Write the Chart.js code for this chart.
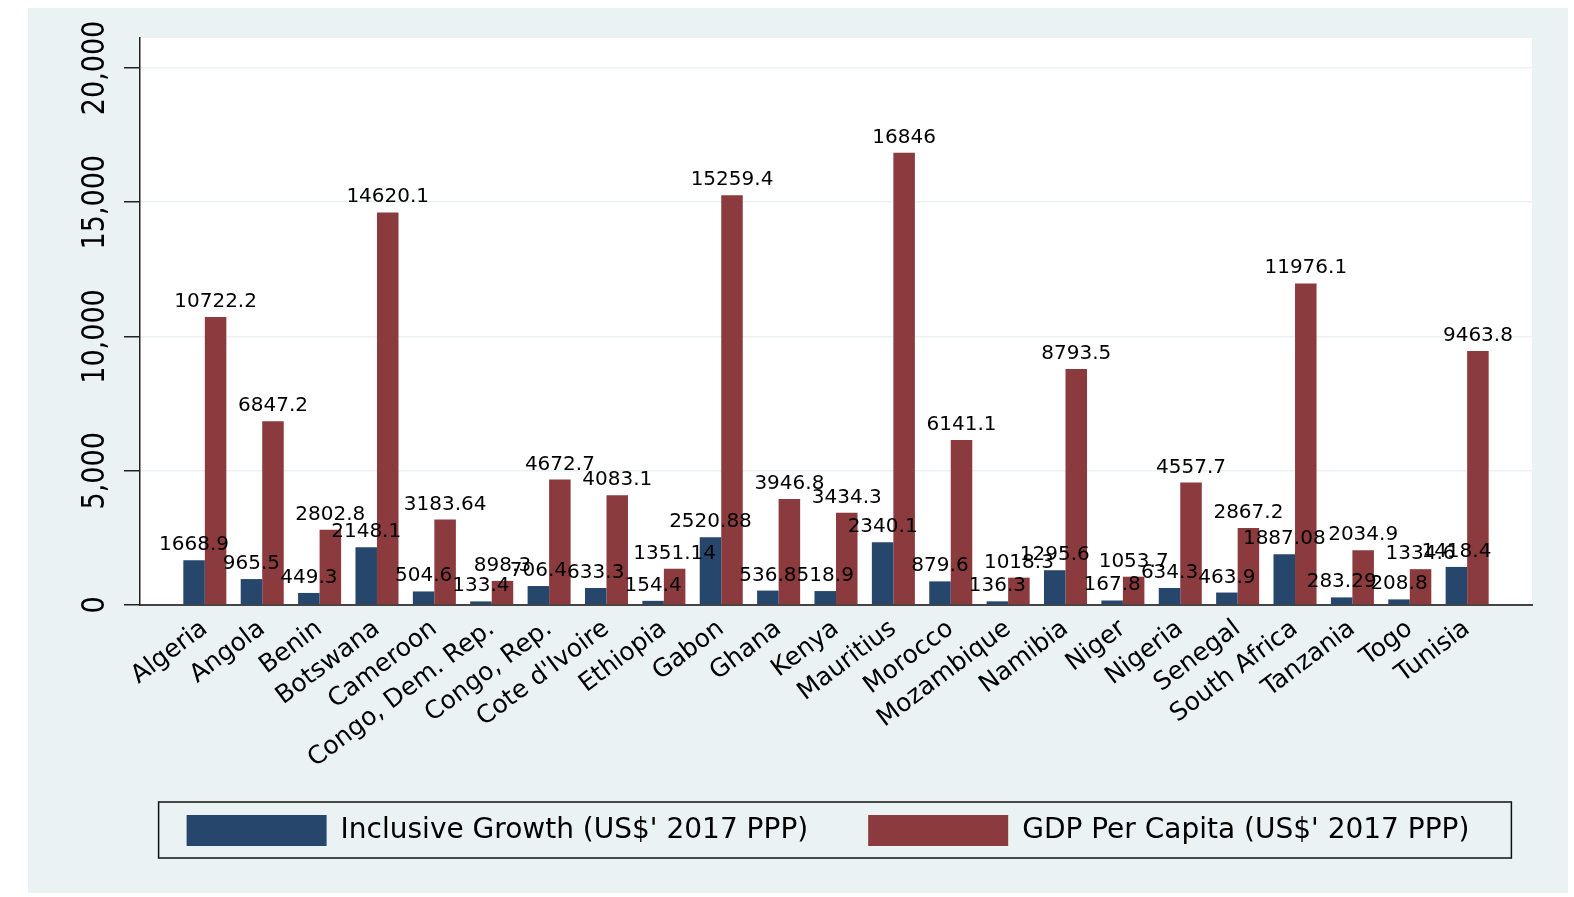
<!DOCTYPE html>
<html>
<head>
<meta charset="utf-8">
<script src="https://cdn.jsdelivr.net/npm/chart.js@4.4.0/dist/chart.umd.min.js"></script>
<style>
  html, body { margin: 0; padding: 0; background: #fff; }
</style>
</head>
<body>
<canvas id="growth-vs-gdp" width="1574" height="897"></canvas>
<script>
var countries = ["Algeria", "Angola", "Benin", "Botswana", "Cameroon", "Congo, Dem. Rep.",
    "Congo, Rep.", "Cote d'Ivoire", "Ethiopia", "Gabon", "Ghana", "Kenya", "Mauritius",
    "Morocco", "Mozambique", "Namibia", "Niger", "Nigeria", "Senegal", "South Africa",
    "Tanzania", "Togo", "Tunisia"];
var inclusiveGrowth = [1668.9, 965.5, 449.3, 2148.1, 504.6, 133.4, 706.4, 633.3, 154.4, 2520.88,
    536.8, 518.9, 2340.1, 879.6, 136.3, 1295.6, 167.8, 634.3, 463.9, 1887.08, 283.29, 208.8, 1418.4];
var gdpPerCapita = [10722.2, 6847.2, 2802.8, 14620.1, 3183.64, 898.3, 4672.7, 4083.1, 1351.14, 15259.4,
    3946.8, 3434.3, 16846, 6141.1, 1018.3, 8793.5, 1053.7, 4557.7, 2867.2, 11976.1, 2034.9, 1334.6, 9463.8];
var yTicks = [0, 5000, 10000, 15000, 20000];

var font = "'DejaVu Sans', sans-serif";
Chart.defaults.color = '#000';
Chart.defaults.font.family = font;

function points(values) {
    return values.map(function (v, i) {
        return {x: i, y: v};
    });
}

// grey graph region + white plot region, Stata style
var backdrop = {
    id: 'backdrop',
    afterLayout: function (chart) {
        // let the long rotated country names run below the axis box without clipping
        var x = chart.scales.x;
        x.bottom += 30;
        x.height += 30;
    },
    beforeDraw: function (chart) {
        var ctx = chart.ctx, a = chart.chartArea;
        ctx.save();
        ctx.fillStyle = '#fff';
        ctx.fillRect(0, 0, chart.width, chart.height);
        ctx.fillStyle = '#eaf2f3';
        ctx.fillRect(28, 8, 1540, 885);
        ctx.fillStyle = '#fff';
        ctx.fillRect(a.left, a.top, a.right - a.left, a.bottom - a.top);
        ctx.restore();
    }
};

// vertical y tick labels
var yLabels = {
    id: 'yLabels',
    afterDraw: function (chart) {
        var ctx = chart.ctx, y = chart.scales.y;
        ctx.save();
        ctx.font = "27px " + font;
        ctx.fillStyle = '#000';
        ctx.textAlign = 'center';
        ctx.textBaseline = 'middle';
        yTicks.forEach(function (t) {
            ctx.save();
            ctx.translate(96, y.getPixelForValue(t));
            ctx.rotate(-Math.PI / 2);
            ctx.scale(1, 1.2);
            ctx.fillText(t.toLocaleString('en-US'), 0, 0);
            ctx.restore();
        });
        ctx.restore();
    }
};

var valueLabels = {
    id: 'valueLabels',
    afterDatasetsDraw: function (chart) {
        var ctx = chart.ctx;
        ctx.save();
        ctx.font = "20px " + font;
        ctx.fillStyle = '#000';
        ctx.textAlign = 'center';
        ctx.textBaseline = 'alphabetic';
        chart.data.datasets.forEach(function (ds, di) {
            chart.getDatasetMeta(di).data.forEach(function (bar, i) {
                ctx.fillText(String(ds.data[i].y), bar.x, bar.y - 10);
            });
        });
        ctx.restore();
    }
};

var legendBorder = {
    id: 'legendBorder',
    afterDraw: function (chart) {
        var hb = chart.legend.legendHitBoxes;
        if (!hb || !hb.length) return;
        var first = hb[0], last = hb[hb.length - 1];
        var left = first.left - 28, right = last.left + last.width + 42;
        var ctx = chart.ctx;
        ctx.save();
        ctx.strokeStyle = '#111';
        ctx.lineWidth = 1.5;
        ctx.strokeRect(left, first.top - 13, right - left, first.height + 25);
        ctx.restore();
    }
};

var ctx = document.getElementById('growth-vs-gdp').getContext('2d');
var chart = new Chart(ctx, {
    type: 'bar',
    data: {
        datasets: [{
            label: "Inclusive Growth (US$' 2017 PPP)",
            data: points(inclusiveGrowth),
            backgroundColor: '#26466b',
            borderWidth: 0
        }, {
            label: "GDP Per Capita (US$' 2017 PPP)",
            data: points(gdpPerCapita),
            backgroundColor: '#8b3a3d',
            borderWidth: 0
        }]
    },
    options: {
        responsive: false,
        animation: false,
        categoryPercentage: 0.75,
        barPercentage: 1.0,
        layout: {padding: {left: 124, right: 42, top: 38, bottom: 41}},
        plugins: {
            legend: {
                position: 'bottom',
                labels: {
                    boxWidth: 140,
                    boxHeight: 31,
                    padding: 60,
                    font: {size: 28},
                    color: '#000'
                }
            },
            tooltip: {enabled: false}
        },
        scales: {
            x: {
                type: 'linear',
                bounds: 'data',
                offset: false,
                min: -1.13,
                max: 23.13,
                grid: {display: false, drawTicks: false},
                border: {display: true, color: '#444', width: 2},
                ticks: {
                    autoSkip: false,
                    minRotation: 37,
                    maxRotation: 37,
                    padding: 9,
                    font: {size: 25},
                    callback: function (v) {
                        return countries[v] || '';
                    }
                },
                afterBuildTicks: function (s) {
                    s.ticks = countries.map(function (c, i) {
                        return {value: i};
                    });
                },
                afterFit: function (s) {
                    s.height = s.chart.height - 41 - s.chart.legend.height - 605;
                }
            },
            y: {
                bounds: 'data',
                min: 0,
                max: 21117,
                grid: {color: '#eaf2f3', lineWidth: 1.5, tickColor: '#222', tickLength: 16},
                border: {color: '#222', width: 1.5},
                ticks: {display: false},
                afterBuildTicks: function (s) {
                    s.ticks = yTicks.map(function (v) {
                        return {value: v};
                    });
                }
            }
        }
    },
    plugins: [backdrop, yLabels, valueLabels, legendBorder]
});
</script>
</body>
</html>
